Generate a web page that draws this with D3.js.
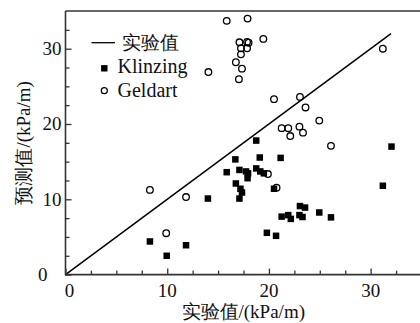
<!DOCTYPE html>
<html><head><meta charset="utf-8"><script src="https://cdn.jsdelivr.net/npm/d3@7"></script></head>
<body style="margin:0">
<svg id="c" width="420" height="323"></svg>
<script>
// ---- data ----
const xTicks = [0, 10, 20, 30];
const yTicks = [0, 10, 20, 30];
const minorTicks = [2.5, 5, 7.5, 12.5, 15, 17.5, 22.5, 25, 27.5, 32.5];
const lineX = [0, 32];
const lineY = [0, 32];

const klinzingX = [8.3, 9.95, 11.85, 14.0, 15.85, 16.7, 17.1, 17.75, 17.9, 16.75, 17.2, 17.35, 17.1,
  18.75, 19.1, 18.75, 19.15, 19.5, 20.5, 21.15, 19.8, 20.7, 32.05, 31.2, 23.05, 23.55, 24.95, 26.1,
  21.25, 21.9, 22.15, 23.0, 23.3, 17.95];
const klinzingY = [4.4, 2.5, 3.9, 10.1, 13.6, 15.3, 13.9, 13.7, 12.8, 12.1, 11.4, 10.9, 10.1,
  17.8, 15.55, 14.1, 13.7, 13.45, 11.4, 15.5, 5.55, 5.15, 17.0, 11.8, 9.1, 8.9, 8.25, 7.6,
  7.7, 7.9, 7.4, 7.9, 7.65, 13.45];

const geldartX = [8.3, 11.85, 9.9, 14.05, 15.85, 17.9, 19.45, 17.1, 17.85, 18.0, 17.25, 17.85, 17.25,
  16.75, 17.35, 17.05, 20.5, 23.05, 23.6, 24.95, 21.25, 21.9, 23.0, 22.1, 23.35, 31.2, 26.1, 19.9, 20.75];
const geldartY = [11.25, 10.3, 5.5, 26.9, 33.7, 34.0, 31.3, 30.85, 30.9, 30.8, 30.05, 30.05, 29.25,
  28.2, 27.35, 25.95, 23.3, 23.6, 22.2, 20.45, 19.45, 19.45, 19.65, 18.4, 18.85, 30.0, 17.1, 13.35, 11.55];

const legendLabels = ["实验值", "Klinzing", "Geldart"];
const xTitle = "实验值/(kPa/m)";
const yTitle = "预测值/(kPa/m)";

// ---- layout ----
const FONT = "Liberation Serif";
const svg = d3.select("#c");
const x = d3.scaleLinear().domain([0, 35]).range([65.5, 421.5]);
const y = d3.scaleLinear().domain([0, 35]).range([274.6, 11.05]);
const axisColor = "#333";

// diagonal line
svg.append("line")
  .attr("x1", x(lineX[0])).attr("y1", y(lineY[0]))
  .attr("x2", x(lineX[1])).attr("y2", y(lineY[1]))
  .attr("stroke", "#000").attr("stroke-width", 1.5);

// Klinzing squares
const s = 6.5;
svg.append("g").selectAll("rect").data(klinzingX.map((d, i) => [d, klinzingY[i]]))
  .join("rect")
  .attr("x", d => x(d[0]) - s / 2).attr("y", d => y(d[1]) - s / 2)
  .attr("width", s).attr("height", s).attr("fill", "#000");

// Geldart circles
svg.append("g").selectAll("circle").data(geldartX.map((d, i) => [d, geldartY[i]]))
  .join("circle")
  .attr("cx", d => x(d[0])).attr("cy", d => y(d[1])).attr("r", 3.3)
  .attr("fill", "none").attr("stroke", "#000").attr("stroke-width", 1.3);

// axes: tick marks drawn by d3 axes, labels added as plain text elements
const xAxis = svg.append("g").attr("transform", `translate(0,${y(0)})`);
xAxis.append("g").call(d3.axisBottom(x).tickValues(minorTicks).tickSize(-4).tickFormat(""));
xAxis.append("g").call(d3.axisBottom(x).tickValues(xTicks).tickSize(-6).tickFormat(""));
xAxis.selectAll(".domain").remove();
xAxis.selectAll("line").attr("stroke", axisColor).attr("stroke-width", 1.3);
svg.selectAll("text.xt").data(xTicks).join("text").attr("class", "xt")
  .attr("x", d => x(d) + (d === 0 ? 4 : 0)).attr("y", y(0) + 22)
  .attr("text-anchor", "middle").attr("font-size", 19).attr("font-family", FONT).attr("fill", "#111")
  .text(d => d);

const yAxis = svg.append("g").attr("transform", `translate(${x(0)},0)`);
yAxis.append("g").call(d3.axisLeft(y).tickValues(minorTicks).tickSize(-4).tickFormat(""));
yAxis.append("g").call(d3.axisLeft(y).tickValues(yTicks).tickSize(-6).tickFormat(""));
yAxis.selectAll(".domain").remove();
yAxis.selectAll("line").attr("stroke", axisColor).attr("stroke-width", 1.3);
svg.selectAll("text.yt").data(yTicks).join("text").attr("class", "yt")
  .attr("x", d => x(0) - 4 - (d === 0 ? 14 : 0)).attr("y", d => y(d)).attr("dy", "0.34em")
  .attr("text-anchor", "end").attr("font-size", 19).attr("font-family", FONT).attr("fill", "#111")
  .text(d => d);

// frame lines
svg.append("line").attr("x1", x(0)).attr("x2", 421).attr("y1", y(0)).attr("y2", y(0))
  .attr("stroke", axisColor).attr("stroke-width", 1.6);
svg.append("line").attr("x1", x(0)).attr("x2", x(0)).attr("y1", y(0) + 0.8).attr("y2", y(35))
  .attr("stroke", axisColor).attr("stroke-width", 1.6);
svg.append("line").attr("x1", x(0)).attr("x2", 421).attr("y1", y(35)).attr("y2", y(35))
  .attr("stroke", axisColor).attr("stroke-width", 1.6);

// titles
svg.append("text").attr("x", (x(0) + 421) / 2).attr("y", 318).attr("text-anchor", "middle")
  .attr("font-family", FONT).attr("fill", "#111").attr("font-size", 19).text(xTitle);
svg.append("text").attr("transform", `translate(30,${(y(0) + y(35)) / 2}) rotate(-90)`)
  .attr("font-family", FONT).attr("fill", "#111")
  .attr("text-anchor", "middle").attr("font-size", 19).text(yTitle);

// legend
svg.append("line").attr("x1", 91.5).attr("x2", 115).attr("y1", 42.7).attr("y2", 42.7)
  .attr("stroke", "#000").attr("stroke-width", 1.3);
svg.append("text").attr("x", 122).attr("y", 49).attr("font-size", 19).attr("font-family", FONT).attr("fill", "#111").text(legendLabels[0]);
svg.append("rect").attr("x", 104.3 - 3.2).attr("y", 68.3 - 3.2).attr("width", 6.4).attr("height", 6.4).attr("fill", "#000");
svg.append("text").attr("x", 117.5).attr("y", 73).attr("font-size", 20).attr("font-family", FONT).attr("fill", "#111").text(legendLabels[1]);
svg.append("circle").attr("cx", 104.3).attr("cy", 90.7).attr("r", 3).attr("fill", "none")
  .attr("stroke", "#000").attr("stroke-width", 1.2);
svg.append("text").attr("x", 117.5).attr("y", 97).attr("font-size", 20).attr("font-family", FONT).attr("fill", "#111").text(legendLabels[2]);
</script>
</body>
</html>
